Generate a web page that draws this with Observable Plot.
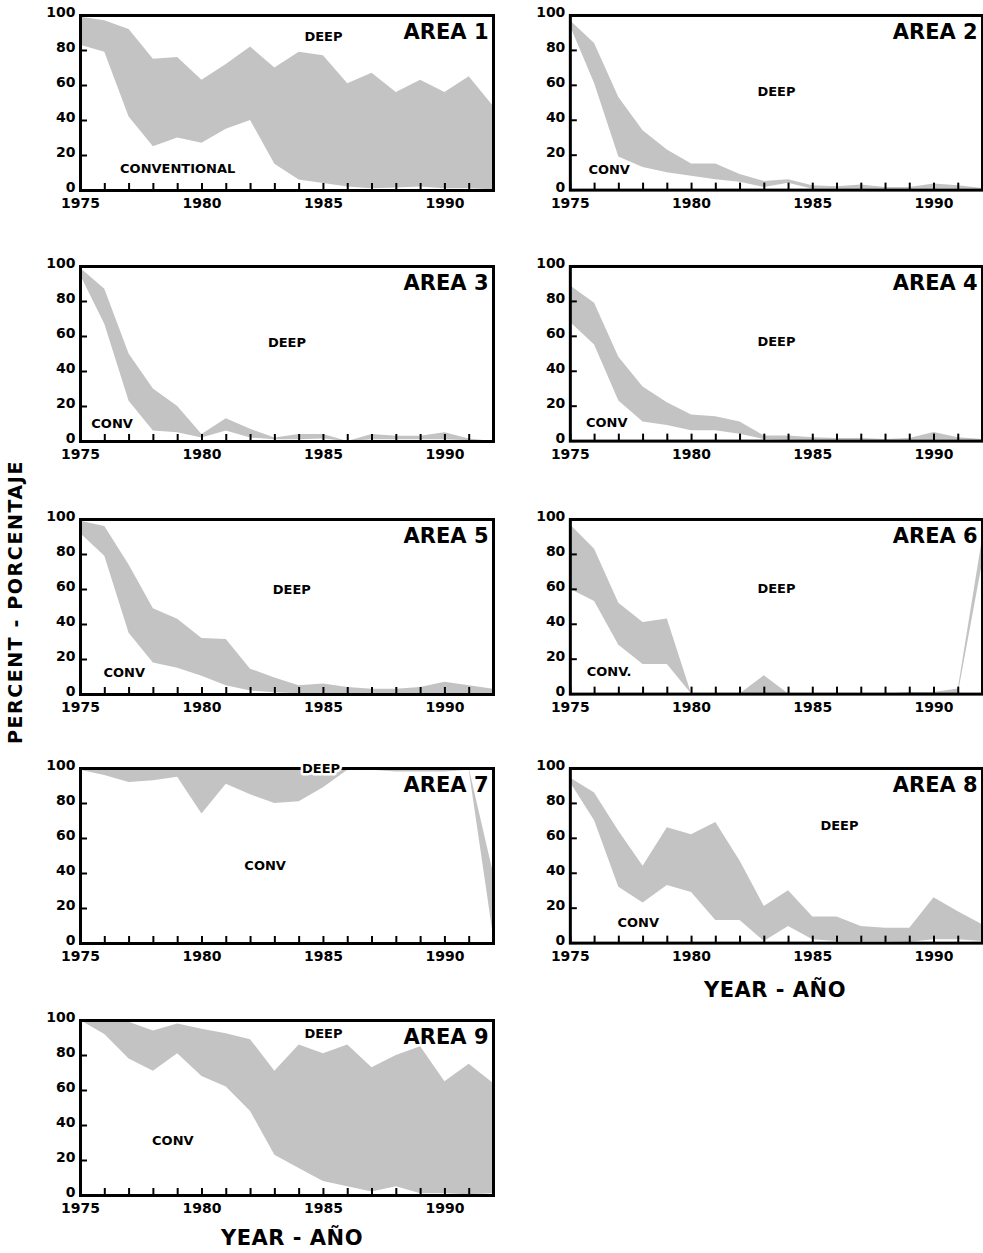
<!DOCTYPE html>
<html><head><meta charset="utf-8">
<script src="https://cdn.jsdelivr.net/npm/d3@7"></script>
<script src="https://cdn.jsdelivr.net/npm/@observablehq/plot@0.6"></script>
<style>
html,body{margin:0;padding:0;background:#fff;}
body{width:983px;height:1253px;position:relative;overflow:hidden;font-family:"DejaVu Sans",sans-serif;}
.panel{position:absolute;}
.panel svg{overflow:visible;}
.xtitle{position:absolute;font-weight:bold;font-size:21px;letter-spacing:0.5px;transform:translateX(-50%);white-space:nowrap;}
.ytitle{position:absolute;font-weight:bold;font-size:19px;letter-spacing:1.6px;white-space:nowrap;transform:translate(-50%,-50%) rotate(-90deg);}
</style></head><body>
<script>
const years = [1975,1976,1977,1978,1979,1980,1981,1982,1983,1984,1985,1986,1987,1988,1989,1990,1991,1992];
const yTicks = [0,20,40,60,80,100];
const yearTicks = [1975,1980,1985,1990];
const areaNames = ["AREA 1","AREA 2","AREA 3","AREA 4","AREA 5","AREA 6","AREA 7","AREA 8","AREA 9"];

// lower edge of the band = conventional boundary, upper edge = deep boundary (percent)
const area1Conv = [83,79,42,25,30,27,35,40,15,6,4,2,1,1.5,2,1,1,0.5];
const area1Deep = [99,97,92,75,76,63,72,82,70,79,77,61,67,56,63,56,65,48];
const area2Conv = [94,61,19,13,10,8,6,4.5,1.5,4,0.5,0.5,0.5,0.5,0.5,0.5,0.5,0.5];
const area2Deep = [97,84,53,34,23,15,15,9,5,6,2.5,2,3,1.5,1.5,3.5,2.5,1];
const area3Conv = [95,67,23,6,5,2,6,2,1,1,1.5,0,1,1,1,1,0.5,0];
const area3Deep = [99,87,50,30,20,4,13,7,2,4,4,0,4,3,3,5,1.5,0];
const area4Conv = [68,55,23,11,9,6,6,4,1,0.5,0.5,0.5,0.5,0.5,0.5,0.5,0.5,0.5];
const area4Deep = [89,79,48,31,22,15,14,11,3,3,2,1.5,1.5,1,1.5,5,2,1];
const area5Conv = [92,79,35,18,15,10.5,5,2,1,0.5,0.5,0.5,0.5,0.5,0.5,0.5,0.5,0.5];
const area5Deep = [99,96,74,49,43,32,31.5,14.5,9.5,5,6,4,3,3,4,7,5,3];
const area6Conv = [60,53,28,17,17,0,0,0,0,0,0,0,0,0,0,0,0,75];
const area6Deep = [97,83,52,41,43,0,0,0,10.5,0,0,0,0,0,1,1,3,89];
const area7Conv = [99,96,92,93,95,74,91,85,80,81,89,99,99,98,98,98,99,4];
const area7Deep = [100,100,100,100,100,100,100,100,100,100,100,100,100,100,100,100,100,40];
const area8Conv = [92,70,32,23,33,29,13,13,1,9.5,2,1,1,1,0.5,2,2,1];
const area8Deep = [94.5,86,64,44,66,62,69,47,21,30,15,15,9.5,8.5,8.5,26,18,10.5];
const area9Conv = [100,92,78,71,81,68,62,48,23,15.5,8,5,2,5,1,1,0.5,1];
const area9Deep = [100,100,99,94,98,95,92.5,89,71,86,81,86,73,80,85,65,75,64];

const convSeries = [area1Conv,area2Conv,area3Conv,area4Conv,area5Conv,area6Conv,area7Conv,area8Conv,area9Conv];
const deepSeries = [area1Deep,area2Deep,area3Deep,area4Deep,area5Deep,area6Deep,area7Deep,area8Deep,area9Deep];

// in-panel labels: [year, percent] and [text, year, percent]
const deepLabels = [[1985,88],[1983.5,56],[1983.5,56.6],[1983.5,56.6],[1983.7,60],[1983.5,60],[1984.9,100],[1986.1,67.4],[1985,92.6]];
const convLabels = [["CONVENTIONAL",1979,12.6],["CONV",1976.6,11.4],["CONV",1976.3,10.3],["CONV",1976.5,10.3],["CONV",1976.8,12.6],["CONV.",1976.6,12.6],["CONV",1982.6,44.6],["CONV",1977.8,11.4],["CONV",1978.8,31.4]];

// layout
const W = 494, ML = 80, MR = 1, MT = 10, PH = 175, MB = 30;
const H = MT + PH + MB;
const plotW = W - ML - MR;
const colLeft = [0, 490];
const frameTops = [15, 266, 519, 768, 1020];
const GREY = "#c3c3c3";

for (let i = 0; i < 9; i++) {
  const data = years.map((yr, j) => ({year: yr, lo: convSeries[i][j], hi: deepSeries[i][j]}));
  const col = i % 2, row = Math.floor(i / 2);
  const isA7 = i === 6;
  const chart = Plot.plot({
    width: W, height: H,
    marginLeft: ML, marginRight: MR, marginTop: MT, marginBottom: MB,
    style: {fontFamily: "'DejaVu Sans', sans-serif", fontWeight: "bold", fontSize: "14px", background: "transparent", overflow: "visible"},
    x: {domain: [1975, 1992]},
    y: {domain: [0, 100]},
    marks: [
      Plot.areaY(data, {x: "year", y1: "lo", y2: "hi", fill: GREY, curve: "linear"}),
      Plot.tickX(years, {x: d => d, stroke: "black", strokeWidth: 2, insetTop: PH - 7}),
      Plot.tickY(yTicks, {y: d => d, stroke: "black", strokeWidth: 2, insetRight: plotW - 7}),
      Plot.frame({stroke: "black", strokeWidth: 3}),
      Plot.axisX({ticks: yearTicks, tickSize: 0, tickPadding: 8, tickFormat: d => String(d), label: null, fontSize: 14, fontWeight: "bold"}),
      Plot.axisY({ticks: yTicks, tickSize: 0, tickPadding: 5, dy: -3, label: null, fontSize: 14, fontWeight: "bold"}),
      Plot.text([areaNames[i]], {frameAnchor: "top-right", text: d => d, textAnchor: "end", lineAnchor: "top", dx: -5, dy: 9, fontSize: 21, fontWeight: "bold", fill: "black"}),
      Plot.text([deepLabels[i]], {x: d => d[0], y: d => d[1], text: () => "DEEP", fontSize: 13, fontWeight: "bold", fill: "black",
        stroke: isA7 ? "white" : null, strokeWidth: isA7 ? 5 : null}),
      Plot.text([convLabels[i]], {x: d => d[1], y: d => d[2], text: d => d[0], fontSize: 13, fontWeight: "bold", fill: "black"})
    ]
  });
  const div = document.createElement("div");
  div.className = "panel";
  div.style.left = colLeft[col] + "px";
  div.style.top = (frameTops[row] - MT) + "px";
  div.appendChild(chart);
  document.body.appendChild(div);
}

const t1 = document.createElement("div");
t1.className = "xtitle"; t1.textContent = "YEAR - AÑO";
t1.style.left = "775px"; t1.style.top = "978px";
document.body.appendChild(t1);
const t2 = document.createElement("div");
t2.className = "xtitle"; t2.textContent = "YEAR - AÑO";
t2.style.left = "292px"; t2.style.top = "1226px";
document.body.appendChild(t2);
const yt = document.createElement("div");
yt.className = "ytitle"; yt.textContent = "PERCENT - PORCENTAJE";
yt.style.left = "15px"; yt.style.top = "602px";
document.body.appendChild(yt);
</script>
</body></html>
